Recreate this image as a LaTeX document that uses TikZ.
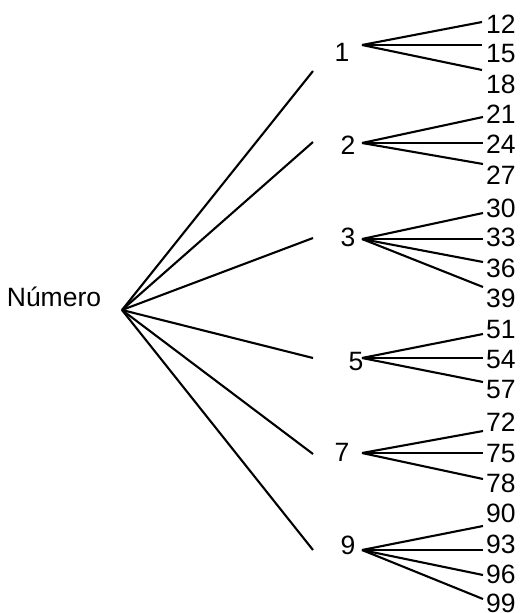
\documentclass[tikz,border=0pt]{standalone}
\usepackage{fontspec}
\setmainfont{Liberation Sans}
\begin{document}
\begin{tikzpicture}[x=1pt,y=-1pt,
  lab/.style={font=\fontsize{26.5}{31}\selectfont,inner sep=0pt,text height=19pt,text depth=0pt},
  leaf/.style={lab,anchor=west},
  edge/.style={line width=2.1pt}]
\useasboundingbox (0,0) rectangle (520,613);
% root
\node[lab] (num) at (54,297) {Número};
\coordinate (r) at (122,310);
% first level labels
\node[lab] (n1) at (342,52) {1};
\node[lab] (n2) at (348,145) {2};
\node[lab] (n3) at (348,237) {3};
\node[lab] (n5) at (356,361) {5};
\node[lab] (n7) at (342,452) {7};
\node[lab] (n9) at (348,545) {9};
% ends of main lines
\coordinate (e1) at (313,71);
\coordinate (e2) at (313,142);
\coordinate (e3) at (313,238);
\coordinate (e5) at (313,358);
\coordinate (e7) at (313,454);
\coordinate (e9) at (313,550);
\foreach \i in {1,2,3,5,7,9} \draw[edge] (r) -- (e\i);
% fan origins
\coordinate (f1) at (362,45);
\coordinate (f2) at (362,143);
\coordinate (f3) at (362,239);
\coordinate (f5) at (362,358);
\coordinate (f7) at (362,453);
\coordinate (f9) at (362,550);
% leaf labels
\node[leaf] (l12) at (486,24) {12};
\node[leaf] (l15) at (486,53) {15};
\node[leaf] (l18) at (486,84) {18};
\node[leaf] (l21) at (486,114) {21};
\node[leaf] (l24) at (486,144) {24};
\node[leaf] (l27) at (486,175) {27};
\node[leaf] (l30) at (486,208) {30};
\node[leaf] (l33) at (486,237) {33};
\node[leaf] (l36) at (486,268) {36};
\node[leaf] (l39) at (486,298) {39};
\node[leaf] (l51) at (486,329) {51};
\node[leaf] (l54) at (486,359) {54};
\node[leaf] (l57) at (486,389) {57};
\node[leaf] (l72) at (486,422) {72};
\node[leaf] (l75) at (486,453) {75};
\node[leaf] (l78) at (486,483) {78};
\node[leaf] (l90) at (486,513) {90};
\node[leaf] (l93) at (486,544) {93};
\node[leaf] (l96) at (486,574) {96};
\node[leaf] (l99) at (486,603) {99};
% leaf line ends
\coordinate (t12) at (482,22);
\coordinate (t15) at (482,45);
\coordinate (t18) at (482,70);
\coordinate (t21) at (483,117);
\coordinate (t24) at (483,143);
\coordinate (t27) at (483,164);
\coordinate (t30) at (483,213);
\coordinate (t33) at (483,239);
\coordinate (t36) at (483,262);
\coordinate (t39) at (483,287);
\coordinate (t51) at (483,334);
\coordinate (t54) at (483,358);
\coordinate (t57) at (483,382);
\coordinate (t72) at (483,431);
\coordinate (t75) at (483,453);
\coordinate (t78) at (483,479);
\coordinate (t90) at (483,526);
\coordinate (t93) at (483,550);
\coordinate (t96) at (483,575);
\coordinate (t99) at (483,599);
\foreach \a/\b in {1/12,1/15,1/18,2/21,2/24,2/27,3/30,3/33,3/36,3/39,5/51,5/54,5/57,7/72,7/75,7/78,9/90,9/93,9/96,9/99}
  \draw[edge] (f\a) -- (t\b);
\end{tikzpicture}
\end{document}
